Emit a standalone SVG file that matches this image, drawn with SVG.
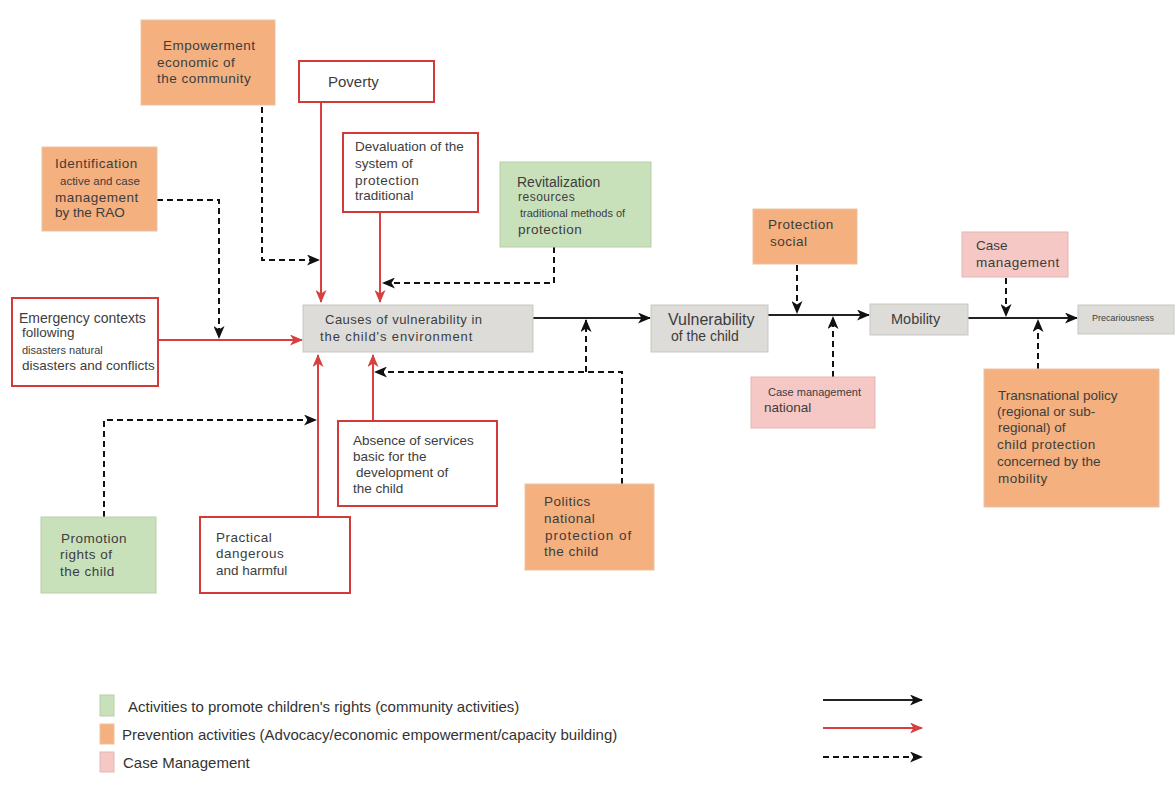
<svg xmlns="http://www.w3.org/2000/svg" width="1176" height="788" viewBox="0 0 1176 788">
  <style>
    text { font-family: "Liberation Sans", Arial, sans-serif; fill: #3d3d3d; font-size: 13.5px; }
    .sm { font-size: 11px; }
    .lg { font-size: 14px; }
    .wide { letter-spacing: 0.5px; }
    .orange { fill: #f4b07e; stroke: #e9c3a6; stroke-width: 1; }
    .green { fill: #c8e1bb; stroke: #b7cfaa; stroke-width: 1; }
    .pink { fill: #f5c8c5; stroke: #e3b7b3; stroke-width: 1; }
    .grey { fill: #dddcd8; stroke: #c8c7c2; stroke-width: 1; }
    .redbox { fill: #ffffff; stroke: #d23a3a; stroke-width: 2; }
    .solid { fill: none; stroke: #222; stroke-width: 2; }
    .red { fill: none; stroke: #d84040; stroke-width: 2; }
    .dash { fill: none; stroke: #111; stroke-width: 2; stroke-dasharray: 6 4; }
    .legend { font-size: 15px; fill: #333; }
  </style>
  <defs>
    <marker id="ahBlack" viewBox="0 0 13 11" refX="12" refY="5.5" markerWidth="13" markerHeight="11" markerUnits="userSpaceOnUse" orient="auto">
      <path d="M0,0 L13,5.5 L0,11 L3.5,5.5 Z" fill="#111"/>
    </marker>
    <marker id="ahRed" viewBox="0 0 13 11" refX="12" refY="5.5" markerWidth="13" markerHeight="11" markerUnits="userSpaceOnUse" orient="auto">
      <path d="M0,0 L13,5.5 L0,11 L3.5,5.5 Z" fill="#d84040"/>
    </marker>
  </defs>
  <rect width="1176" height="788" fill="#ffffff"/>

  <!-- connectors -->
  <g id="connectors">
    <path class="dash" d="M262,107 V260 H319" marker-end="url(#ahBlack)"/>
    <path class="red" d="M321,102 V302" marker-end="url(#ahRed)"/>
    <path class="red" d="M380,212 V302" marker-end="url(#ahRed)"/>
    <path class="dash" d="M554,247 V283 H383" marker-end="url(#ahBlack)"/>
    <path class="dash" d="M157,200 H219 V338" marker-end="url(#ahBlack)"/>
    <path class="red" d="M158,340 H302" marker-end="url(#ahRed)"/>
    <path class="solid" d="M533,318 H650" marker-end="url(#ahBlack)"/>
    <path class="dash" d="M622,484 V372 H375" marker-end="url(#ahBlack)"/>
    <path class="dash" d="M586,372 V320" marker-end="url(#ahBlack)"/>
    <path class="red" d="M373,421 V355" marker-end="url(#ahRed)"/>
    <path class="red" d="M318,516 V355" marker-end="url(#ahRed)"/>
    <path class="dash" d="M104,517 V420 H316" marker-end="url(#ahBlack)"/>
    <path class="solid" d="M768,315 H869" marker-end="url(#ahBlack)"/>
    <path class="dash" d="M797,265 V313" marker-end="url(#ahBlack)"/>
    <path class="dash" d="M833,377 V317" marker-end="url(#ahBlack)"/>
    <path class="solid" d="M968,318 H1077" marker-end="url(#ahBlack)"/>
    <path class="dash" d="M1006,278 V316" marker-end="url(#ahBlack)"/>
    <path class="dash" d="M1038,369 V320" marker-end="url(#ahBlack)"/>
  </g>

  <!-- nodes -->
  <g id="empowerment">
    <rect class="orange" x="141" y="20" width="134" height="85"/>
    <text class="wide" x="163" y="50">Empowerment</text>
    <text class="wide" x="157" y="67">economic of</text>
    <text class="wide" x="157" y="83">the community</text>
  </g>
  <g id="poverty">
    <rect class="redbox" x="299" y="61" width="135" height="41"/>
    <text x="328" y="87" style="font-size:15px">Poverty</text>
  </g>
  <g id="devaluation">
    <rect class="redbox" x="343" y="133" width="135" height="79"/>
    <text x="355" y="151">Devaluation of the</text>
    <text x="355" y="168">system of</text>
    <text class="wide" x="355" y="185">protection</text>
    <text x="355" y="200">traditional</text>
  </g>
  <g id="identification">
    <rect class="orange" x="42" y="147" width="115" height="84"/>
    <text class="wide" x="55" y="168">Identification</text>
    <text class="sm" x="60" y="185" style="font-size:11.5px">active and case</text>
    <text class="wide" x="55" y="202">management</text>
    <text x="55" y="217">by the RAO</text>
  </g>
  <g id="revitalization">
    <rect class="green" x="500" y="162" width="151" height="85"/>
    <text class="lg" x="517" y="187">Revitalization</text>
    <text class="wide" x="518" y="201" style="font-size:12px">resources</text>
    <text class="sm" x="520" y="217">traditional methods of</text>
    <text class="wide" x="518" y="234">protection</text>
  </g>
  <g id="protection-social">
    <rect class="orange" x="753" y="209" width="104" height="55"/>
    <text class="wide" x="768" y="229">Protection</text>
    <text class="wide" x="770" y="246">social</text>
  </g>
  <g id="case-management-top">
    <rect class="pink" x="962" y="232" width="106" height="45"/>
    <text x="976" y="250">Case</text>
    <text class="wide" x="976" y="267">management</text>
  </g>
  <g id="emergency">
    <rect class="redbox" x="12" y="298" width="146" height="88"/>
    <text class="lg" x="19" y="323">Emergency contexts</text>
    <text x="22" y="337">following</text>
    <text class="sm" x="22" y="354">disasters natural</text>
    <text x="22" y="370">disasters and conflicts</text>
  </g>
  <g id="causes">
    <rect class="grey" x="303" y="305" width="230" height="47"/>
    <text x="325" y="324" style="letter-spacing:0.5px;font-size:13px">Causes of vulnerability in</text>
    <text x="320" y="341" style="letter-spacing:0.9px;font-size:13px">the child's environment</text>
  </g>
  <g id="vulnerability">
    <rect class="grey" x="651" y="305" width="117" height="47"/>
    <text x="668" y="325" style="font-size:16px">Vulnerability</text>
    <text x="671" y="341" style="font-size:14px">of the child</text>
  </g>
  <g id="mobility">
    <rect class="grey" x="870" y="304" width="98" height="31"/>
    <text x="891" y="324" style="font-size:14.5px">Mobility</text>
  </g>
  <g id="precariousness">
    <rect class="grey" x="1078" y="305" width="96" height="29"/>
    <text x="1092" y="321" style="font-size:9px">Precariousness</text>
  </g>
  <g id="case-management-national">
    <rect class="pink" x="751" y="377" width="124" height="51"/>
    <text class="sm" x="768" y="396">Case management</text>
    <text x="764" y="412">national</text>
  </g>
  <g id="transnational">
    <rect class="orange" x="984" y="369" width="175" height="138"/>
    <text x="998" y="400">Transnational policy</text>
    <text x="997" y="416">(regional or sub-</text>
    <text x="998" y="432">regional) of</text>
    <text class="wide" x="997" y="449">child protection</text>
    <text x="997" y="466">concerned by the</text>
    <text class="wide" x="998" y="483">mobility</text>
  </g>
  <g id="absence">
    <rect class="redbox" x="338" y="421" width="159" height="85"/>
    <text x="353" y="445">Absence of services</text>
    <text x="353" y="461">basic for the</text>
    <text x="356" y="477">development of</text>
    <text x="353" y="493">the child</text>
  </g>
  <g id="politics">
    <rect class="orange" x="525" y="484" width="129" height="86"/>
    <text class="wide" x="544" y="506">Politics</text>
    <text class="wide" x="544" y="523">national</text>
    <text x="545" y="540" style="letter-spacing:1px">protection of</text>
    <text class="wide" x="544" y="556">the child</text>
  </g>
  <g id="promotion">
    <rect class="green" x="41" y="517" width="115" height="76"/>
    <text class="wide" x="61" y="543">Promotion</text>
    <text class="wide" x="60" y="559">rights of</text>
    <text class="wide" x="60" y="576">the child</text>
  </g>
  <g id="practical">
    <rect class="redbox" x="200" y="517" width="150" height="76"/>
    <text class="wide" x="216" y="542">Practical</text>
    <text class="wide" x="216" y="558">dangerous</text>
    <text x="216" y="575">and harmful</text>
  </g>

  <!-- legend -->
  <g id="legend">
    <rect class="green" x="100" y="695" width="14" height="21"/>
    <rect class="orange" x="100" y="724" width="14" height="20"/>
    <rect class="pink" x="100" y="752" width="14" height="20"/>
    <text class="legend" x="128" y="712">Activities to promote children's rights (community activities)</text>
    <text class="legend" x="122" y="740">Prevention activities (Advocacy/economic empowerment/capacity building)</text>
    <text class="legend" x="123" y="768">Case Management</text>
    <path class="solid" d="M823,700 H922" marker-end="url(#ahBlack)"/>
    <path class="red" d="M823,728 H922" marker-end="url(#ahRed)"/>
    <path class="dash" d="M823,757 H922" marker-end="url(#ahBlack)"/>
  </g>
</svg>
